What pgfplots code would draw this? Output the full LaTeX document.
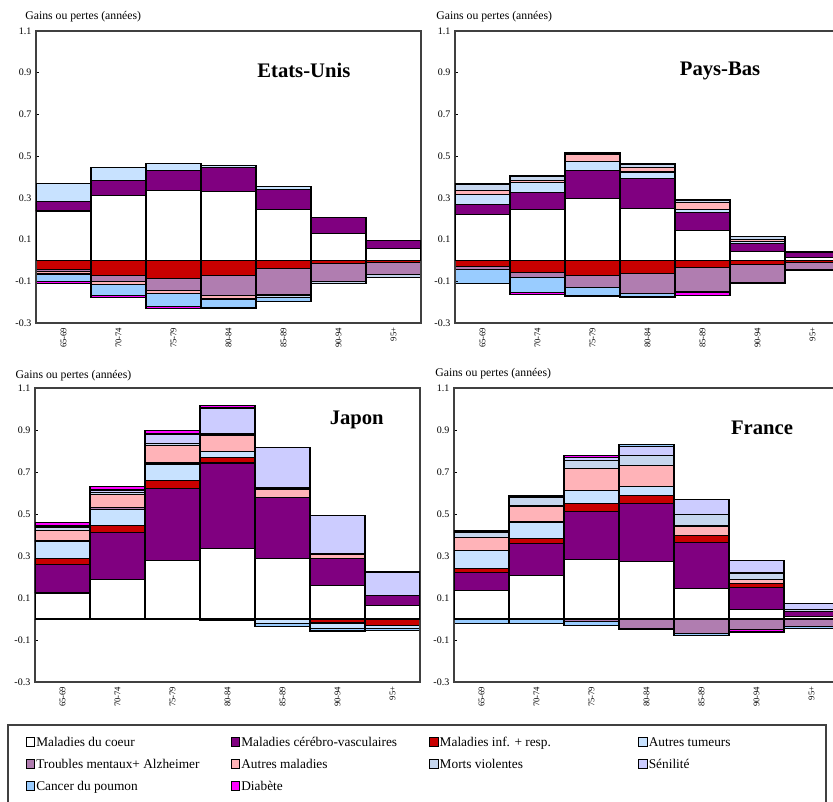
\documentclass[border=0pt]{standalone}
\usepackage{fontspec}
\setmainfont{Liberation Serif}
\usepackage{pgfplots}
\pgfplotsset{compat=1.18}
\usepackage{pgfplotstable}

\definecolor{ccoeur}{HTML}{FFFFFF}
\definecolor{ccerebro}{HTML}{800080}
\definecolor{cinf}{HTML}{C80000}
\definecolor{ctumeurs}{HTML}{C8E2FF}
\definecolor{ctroubles}{HTML}{B07DB0}
\definecolor{cautres}{HTML}{FFB3B8}
\definecolor{cviolentes}{HTML}{C6D6EE}
\definecolor{csenilite}{HTML}{CCCCFF}
\definecolor{cpoumon}{HTML}{99CCFF}
\definecolor{cdiabete}{HTML}{FF00FF}

% gains (+) or losses (-) per cause and age group
\pgfplotstableread{
pos coeur cerebro inf tumeurs troubles autres violentes senilite poumon diabete
0 0.237 0.044 -0.045 0.090 -0.010 -0.010 0 0 -0.035 -0.012
1 0.312 0.070 -0.072 0.062 -0.029 -0.014 0 0 -0.053 -0.011
2 0.336 0.096 -0.085 0.032 -0.059 -0.016 0 0 -0.061 -0.011
3 0.331 0.113 -0.072 0.013 -0.098 -0.011 -0.006 0 -0.038 -0.006
4 0.243 0.099 -0.040 0.014 -0.123 -0.005 -0.010 0 -0.018 0
5 0.131 0.075 -0.016 0 -0.083 0 -0.012 0 0 0
6 0.056 0.040 -0.011 0 -0.058 0 -0.012 0 0 0
}\tabUS

\pgfplotstableread{
pos coeur cerebro inf tumeurs troubles autres violentes senilite poumon diabete
0 0.219 0.048 -0.029 0.049 -0.016 0.020 0.030 0.004 -0.064 0
1 0.243 0.081 -0.056 0.050 -0.027 0.010 0.018 0.004 -0.069 -0.011
2 0.299 0.133 -0.072 0.043 -0.059 0.034 0.004 0.006 -0.038 -0.004
3 0.249 0.146 -0.061 0.029 -0.096 0.021 0.016 0.006 -0.014 -0.008
4 0.144 0.086 -0.032 0.013 -0.118 0.035 0.010 0.004 -0.005 -0.011
5 0.043 0.037 -0.021 0.010 -0.083 0.010 0.013 0.004 -0.005 0
6 0.016 0.021 -0.011 0 -0.034 0 0 0.005 -0.005 0
}\tabNL

\pgfplotstableread{
pos coeur cerebro inf tumeurs troubles autres violentes senilite poumon diabete
0 0.124 0.136 0.026 0.084 0.006 0.046 0.012 0.005 0.006 0.015
1 0.187 0.227 0.030 0.077 0.008 0.063 0.012 0.006 0.005 0.015
2 0.279 0.342 0.039 0.075 0.008 0.082 0.010 0.043 0.006 0.014
3 0.335 0.408 0.027 0.028 -0.005 0.077 0.006 0.120 0.006 0.010
4 0.286 0.293 0 -0.020 0 0.040 0.008 0.190 -0.015 0
5 0.160 0.130 -0.019 -0.028 0 0.016 0.005 0.184 -0.010 0
6 0.065 0.048 -0.032 -0.011 0 0 0 0.111 -0.010 0
}\tabJP

\pgfplotstableread{
pos coeur cerebro inf tumeurs troubles autres violentes senilite poumon diabete
0 0.134 0.087 0.019 0.087 0 0.063 0.021 0.006 -0.020 0.004
1 0.209 0.150 0.024 0.079 0 0.076 0.040 0.005 -0.020 0.005
2 0.283 0.231 0.038 0.060 -0.012 0.103 0.040 0.016 -0.020 0.009
3 0.272 0.277 0.040 0.044 -0.044 0.098 0.047 0.045 0.008 -0.006
4 0.146 0.218 0.035 0 -0.068 0.044 0.055 0.070 -0.012 0
5 0.047 0.102 0.020 0 -0.048 0.020 0.030 0.060 0 -0.014
6 0.011 0.024 0 0 -0.036 0 0.012 0.025 -0.010 0
}\tabFR

\pgfplotsset{
  common/.style={scale only axis, width=288.75pt, ybar stacked, bar width=1,
    xmin=-0.5, xmax=6.5, ymin=-0.3, ymax=1.1, clip mode=individual},
  panel/.style={common,
    axis line style={line width=1pt, black!75},
    ytick={-0.3,-0.1,0.1,0.3,0.5,0.7,0.9,1.1},
    ytick pos=left, tick align=inside, major tick length=2.5pt,
    tick style={black, line width=0.6pt},
    xtick={0,...,6}, xtick style={draw=none},
    xticklabels={65-69,70-74,75-79,80-84,85-89,90-94,95+},
    x tick label style={rotate=90, anchor=east, font=\fontsize{6.5}{7}\selectfont},
    y tick label style={font=\fontsize{7.5}{8}\selectfont},
    yticklabel style={/pgf/number format/.cd, fixed, fixed zerofill, precision=1, assume math mode=true},
  },
  negpanel/.style={common, hide axis},
}

\newcommand\bars[2]{%
  \pgfplotsinvokeforeach{coeur,cerebro,inf,tumeurs,troubles,autres,violentes,senilite,poumon,diabete}{%
    \addplot[fill=c##1, draw=black, line width=0.8pt] table[x=pos, y expr={#2(\thisrow{##1},0)}] {#1};
  }%
}
\newcommand\ylab{Gains ou pertes (années)}

\begin{document}
\begin{tikzpicture}
\useasboundingbox (0pt,0pt) rectangle (624.75pt,-600.75pt);

% Etats-Unis
\begin{axis}[negpanel, height=219pt, at={(27pt,-242.25pt)}, anchor=south west]
\bars{\tabUS}{min}
\end{axis}
\begin{axis}[panel, height=219pt, at={(27pt,-242.25pt)}, anchor=south west]
\bars{\tabUS}{max}
\node[anchor=base west, xshift=-11.5pt, yshift=9pt, font=\fontsize{8.8}{10}\selectfont] at (rel axis cs:0,1) {\ylab};
\node[font=\fontsize{15.5}{18}\selectfont\bfseries] at (axis cs:4.37,0.91) {Etats-Unis};
\end{axis}

% Pays-Bas
\begin{axis}[negpanel, height=219pt, at={(341.25pt,-242.25pt)}, anchor=south west]
\bars{\tabNL}{min}
\end{axis}
\begin{axis}[panel, height=219pt, at={(341.25pt,-242.25pt)}, anchor=south west]
\bars{\tabNL}{max}
\node[anchor=base west, xshift=-17.5pt, yshift=9pt, font=\fontsize{8.8}{10}\selectfont] at (rel axis cs:0,1) {\ylab};
\node[font=\fontsize{15.5}{18}\selectfont\bfseries] at (axis cs:4.32,0.91) {Pays-Bas};
\end{axis}

% Japon
\begin{axis}[negpanel, height=220.5pt, at={(26.25pt,-511.5pt)}, anchor=south west]
\bars{\tabJP}{min}
\end{axis}
\begin{axis}[panel, height=220.5pt, at={(26.25pt,-511.5pt)}, anchor=south west]
\bars{\tabJP}{max}
\node[anchor=base west, xshift=-18pt, yshift=7.5pt, font=\fontsize{8.8}{10}\selectfont] at (rel axis cs:0,1) {\ylab};
\node[font=\fontsize{15.5}{18}\selectfont\bfseries] at (axis cs:5.35,0.95) {Japon};
\end{axis}

% France
\begin{axis}[negpanel, height=220.5pt, at={(340.5pt,-511.5pt)}, anchor=south west]
\bars{\tabFR}{min}
\end{axis}
\begin{axis}[panel, height=220.5pt, at={(340.5pt,-511.5pt)}, anchor=south west]
\bars{\tabFR}{max}
\node[anchor=base west, xshift=-17.5pt, yshift=8.6pt, font=\fontsize{8.8}{10}\selectfont] at (rel axis cs:0,1) {\ylab};
\node[font=\fontsize{15.5}{18}\selectfont\bfseries] at (axis cs:5.1,0.91) {France};
\end{axis}

% legend box
\begin{axis}[scale only axis, width=613.5pt, height=60.75pt, at={(6pt,-604.5pt)}, anchor=south west,
  xmin=0, xmax=1, ymin=0, ymax=1, xtick=\empty, ytick=\empty,
  axis line style={line width=0.8pt, black!75},
  legend columns=4,
  legend image code/.code={\draw[#1, draw=black, line width=0.7pt] (0pt,-3.4pt) rectangle (6.5pt,3.4pt);},
  legend style={at={(0,1)}, anchor=north west, xshift=13pt, yshift=-7pt, draw=none, fill=none,
    inner sep=0pt, nodes={inner sep=0.8pt}, row sep=5pt,
    font=\fontsize{10}{12}\selectfont},
  legend cell align=left]
\addlegendimage{fill=ccoeur}\addlegendentry{\makebox[145pt][l]{\strut Maladies du coeur}}
\addlegendimage{fill=ccerebro}\addlegendentry{\makebox[140pt][l]{\strut Maladies cérébro-vasculaires}}
\addlegendimage{fill=cinf}\addlegendentry{\makebox[148pt][l]{\strut Maladies inf. + resp.}}
\addlegendimage{fill=ctumeurs}\addlegendentry{\strut Autres tumeurs}
\addlegendimage{fill=ctroubles}\addlegendentry{\strut Troubles mentaux+ Alzheimer}
\addlegendimage{fill=cautres}\addlegendentry{\strut Autres maladies}
\addlegendimage{fill=cviolentes}\addlegendentry{\strut Morts violentes}
\addlegendimage{fill=csenilite}\addlegendentry{\strut Sénilité}
\addlegendimage{fill=cpoumon}\addlegendentry{\strut Cancer du poumon}
\addlegendimage{fill=cdiabete}\addlegendentry{\strut Diabète}
\end{axis}
\end{tikzpicture}
\end{document}
